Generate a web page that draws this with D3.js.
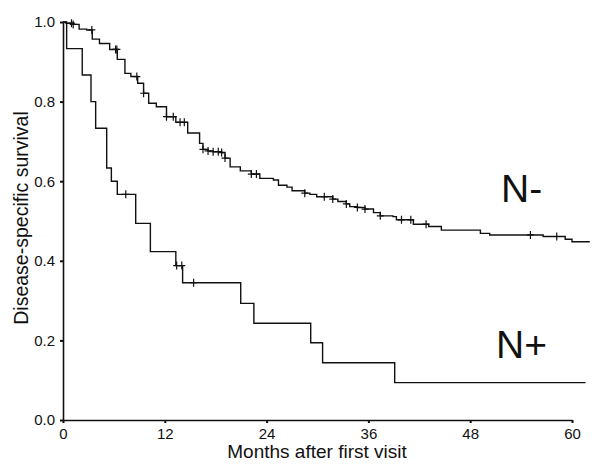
<!DOCTYPE html>
<meta charset="utf-8">
<title>Disease-specific survival</title>
<body>
<script src="https://cdn.jsdelivr.net/npm/d3@7"></script>
<style>
html, body {
    margin: 0;
    background: #fff;
}
svg {
    display: block;
    font-family: "Liberation Sans", Arial, sans-serif;
}
</style>
<svg></svg>
<script>
var width = 594,
    height = 464;

// N- group: step times (months) and survival after each step
var negTimes = [0, 0.35, 1.2, 1.9, 2.8, 3.45, 4.3, 5.5, 6.4, 7.3, 8.0, 8.8, 9.5, 10.1, 11.0, 12.2, 13.3,
    14.7, 16.1, 16.5, 17.1, 17.7, 18.7, 19.1, 19.7, 20.9, 22.2, 23.2, 24.8, 25.4, 26.4, 27.0,
    28.5, 29.1, 29.9, 31.8, 32.4, 33.4, 33.8, 34.7, 35.6, 36.6, 37.4, 38.9, 39.3, 41.3, 43.1,
    44.6, 49.2, 50.3, 56.6, 59.2, 60.0];
var negSurv = [1.0, 0.997, 0.994, 0.982, 0.980, 0.957, 0.946, 0.931, 0.906, 0.871, 0.863, 0.846, 0.821,
    0.796, 0.787, 0.762, 0.748, 0.721, 0.695, 0.680, 0.676, 0.674, 0.672, 0.658, 0.636, 0.626,
    0.618, 0.607, 0.603, 0.590, 0.585, 0.576, 0.570, 0.567, 0.561, 0.555, 0.549, 0.543, 0.536,
    0.534, 0.530, 0.521, 0.513, 0.511, 0.503, 0.492, 0.486, 0.477, 0.469, 0.465, 0.461, 0.454, 0.448];
var negEnd = 62.1;
var negCensor = [1.0, 1.2, 3.4, 6.2, 6.35, 8.7, 9.5, 12.2, 13.0, 13.8, 14.3, 16.5, 17.1, 17.7, 18.3,
    18.7, 19.1, 22.2, 22.8, 28.5, 30.8, 31.8, 33.4, 34.7, 35.6, 37.4, 39.9, 41.0, 42.8, 55.1, 58.2];

// N+ group
var posTimes = [0, 0.43, 2.27, 3.3, 3.85, 5.15, 5.7, 6.4, 8.57, 10.3, 13.3, 14.1, 20.95, 22.5, 29.2, 30.6, 39.1];
var posSurv = [1.0, 0.933, 0.867, 0.80, 0.733, 0.633, 0.600, 0.567, 0.494, 0.423, 0.388, 0.345, 0.293,
    0.243, 0.194, 0.144, 0.094];
var posEnd = 61.6;
var posCensor = [7.4, 13.4, 14.0, 15.4];

var xTicks = [0, 12, 24, 36, 48, 60],
    yTicks = [0, 0.2, 0.4, 0.6, 0.8, 1.0];

var x = d3.scaleLinear().domain([0, 60]).range([63, 572]),
    y = d3.scaleLinear().domain([0, 1]).range([420, 22]);

var svg = d3.select("svg")
    .attr("width", width)
    .attr("height", height);

function series(times, surv, end) {
    var pts = times.map(function(t, i) { return [t, surv[i]]; });
    pts.push([end, surv[surv.length - 1]]);
    return pts;
}

function survAt(times, surv, t) {
    var i = d3.bisectRight(times, t) - 1;
    return surv[Math.max(0, i)];
}

var line = d3.line()
    .x(function(d) { return x(d[0]); })
    .y(function(d) { return y(d[1]); })
    .curve(d3.curveStepAfter);

// axes
var xAxis = svg.append("g")
    .attr("transform", "translate(0," + y(0) + ")")
    .call(d3.axisBottom(x).tickValues(xTicks).tickSize(3).tickPadding(5).tickSizeOuter(0));

var yAxis = svg.append("g")
    .attr("transform", "translate(" + x(0) + ",0)")
    .call(d3.axisLeft(y).tickValues(yTicks).tickFormat(d3.format(".1f")).tickSize(3).tickPadding(5).tickSizeOuter(0));

[xAxis, yAxis].forEach(function(a) {
    a.select(".domain").attr("stroke", "#111").attr("stroke-width", 1.6);
    a.selectAll(".tick line").attr("stroke", "#111").attr("stroke-width", 2);
    a.selectAll(".tick text")
        .attr("fill", "#111")
        .style("font-size", "15px")
        .style("font-family", "'Liberation Sans', Arial, sans-serif");
});

// curves
function drawGroup(times, surv, end, censor) {
    svg.append("path")
        .datum(series(times, surv, end))
        .attr("fill", "none")
        .attr("stroke", "#111")
        .attr("stroke-width", 1.4)
        .attr("d", line);

    svg.append("g").selectAll("path")
        .data(censor)
        .enter().append("path")
        .attr("fill", "none")
        .attr("stroke", "#111")
        .attr("stroke-width", 1.2)
        .attr("d", function(t) {
            var cx = x(t), cy = y(survAt(times, surv, t));
            return "M" + [cx - 3.5, cy] + "H" + (cx + 3.5) + "M" + [cx, cy - 4] + "V" + (cy + 4);
        });
}

drawGroup(negTimes, negSurv, negEnd, negCensor);
drawGroup(posTimes, posSurv, posEnd, posCensor);

// labels
svg.append("text")
    .attr("x", 501)
    .attr("y", 202)
    .attr("fill", "#111")
    .style("font-size", "39px")
    .text("N-");

svg.append("text")
    .attr("x", 496)
    .attr("y", 358)
    .attr("fill", "#111")
    .style("font-size", "39px")
    .text("N+");

svg.append("text")
    .attr("x", 317)
    .attr("y", 458)
    .attr("text-anchor", "middle")
    .attr("fill", "#111")
    .style("font-size", "19px")
    .text("Months after first visit");

svg.append("text")
    .attr("transform", "translate(28,218)rotate(-90)")
    .attr("text-anchor", "middle")
    .attr("fill", "#111")
    .style("font-size", "19.5px")
    .text("Disease-specific survival");
</script>
